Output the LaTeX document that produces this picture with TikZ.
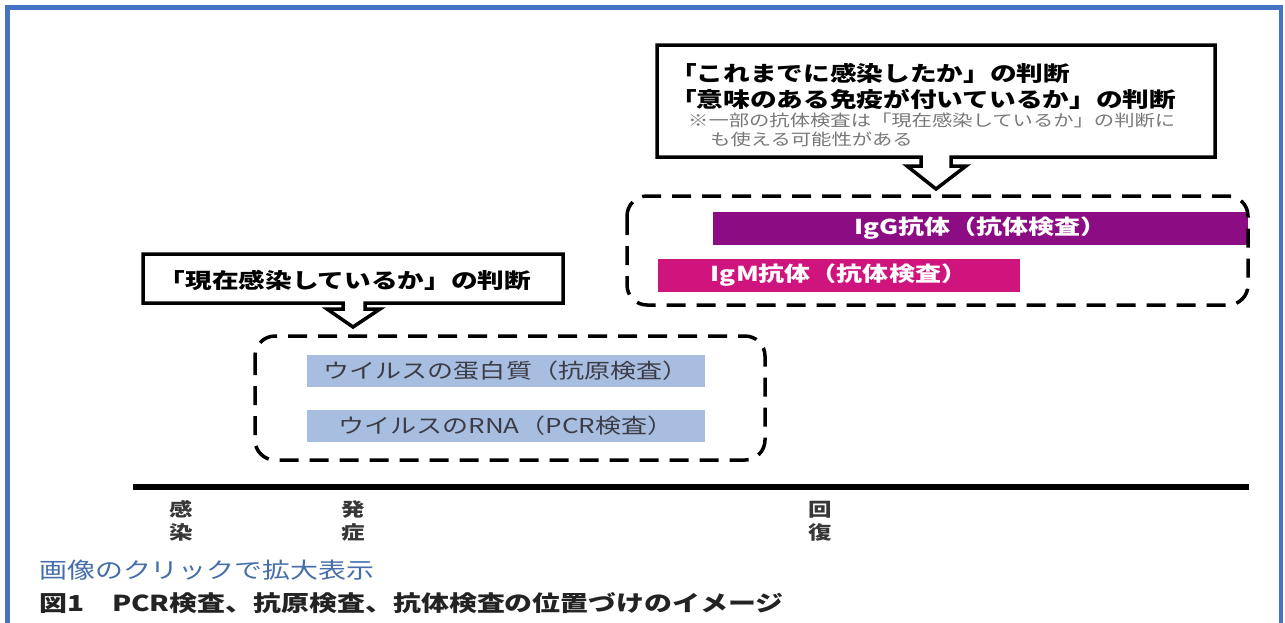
\documentclass[tikz,border=0pt]{standalone}
\usepackage{fontspec}
\setmainfont{Noto Sans CJK JP}
\newfontfamily\jp[FakeStretch=1.27]{Noto Sans CJK JP}
\definecolor{frameblue}{RGB}{68,114,196}
\definecolor{iggcol}{RGB}{140,12,132}
\definecolor{igmcol}{RGB}{208,20,126}
\definecolor{lightbar}{RGB}{168,190,224}
\definecolor{bartext}{RGB}{60,60,70}
\definecolor{linkblue}{RGB}{70,110,170}
\definecolor{captext}{RGB}{35,35,35}
\definecolor{notegray}{RGB}{120,120,120}
\definecolor{labgray}{RGB}{55,55,55}
\tikzset{
  callout/.style={draw=black, line width=3.5pt, fill=white, line join=miter},
  dbox/.style={draw=black, line width=3.5pt, dash pattern=on 19pt off 11pt, rounded corners=20pt},
  bigtext/.style={font=\jp\bfseries\fontsize{21}{25}\selectfont, inner sep=0pt, text=black},
  notetext/.style={font=\jp\fontsize{16}{19}\selectfont, inner sep=0pt, text=notegray, anchor=west},
  barbox/.style={inner sep=0pt, minimum height=33pt, draw=none},
  abtext/.style={font=\jp\bfseries\fontsize{20.5}{24}\selectfont, text=white},
  virtext/.style={font=\jp\fontsize{20.5}{24}\selectfont, text=bartext},
  stage/.style={font=\jp\bfseries\fontsize{18.5}{23}\selectfont, text=labgray, align=center, inner sep=0pt},
}
\begin{document}
\begin{tikzpicture}[x=1pt,y=-1pt]
\useasboundingbox (0,0) rectangle (1285,622);
\fill[white] (0,0) rectangle (1285,622);
% outer frame
\draw[frameblue, line width=4.5pt] (7.5,640) -- (7.5,7.5) -- (1281,7.5) -- (1281,640);

% upper callout
\draw[callout] (657,45) -- (1215,45) -- (1215,157) -- (951,157) -- (951,166) -- (966,166)
  -- (936,189) -- (907,166) -- (921,166) -- (921,157) -- (657,157) -- cycle;
\node[bigtext, anchor=west] (q1) at (670,73) {「これまでに感染したか」の判断};
\node[bigtext, anchor=west] (q2) at (670,99) {「意味のある免疫が付いているか」の判断};
\node[notetext] (n1) at (688,120) {※一部の抗体検査は「現在感染しているか」の判断に};
\node[notetext] (n2) at (710,139) {も使える可能性がある};

% antibody bars
\node[barbox, fill=iggcol, minimum width=535pt, abtext] (igg) at (980.5,228.5) {IgG抗体（抗体検査）};
\node[barbox, fill=igmcol, minimum width=362pt, abtext] (igm) at (839,275) {IgM抗体（抗体検査）};
\draw[dbox] (627,196) rectangle (1248,305);

% lower callout
\draw[callout] (143,254) -- (563,254) -- (563,303) -- (365,303) -- (365,309) -- (380,309)
  -- (353,327) -- (327,309) -- (343,309) -- (343,303) -- (143,303) -- cycle;
\node[bigtext] (q3) at (345,280) {「現在感染しているか」の判断};

% virus bars
\node[barbox, fill=lightbar, minimum width=398pt, minimum height=32pt, virtext] (prot) at (506,371) {ウイルスの蛋白質（抗原検査）};
\node[barbox, fill=lightbar, minimum width=398pt, minimum height=32pt, virtext] (rna) at (506,426) {ウイルスのRNA（PCR検査）};
\draw[dbox] (255,336) rectangle (765,460);

% timeline
\coordinate (t0) at (133,487);
\coordinate (t1) at (1249,487);
\draw[black, line width=6pt] (t0) -- (t1);
\node[stage] (s1) at (181,521) {感\\染};
\node[stage] (s2) at (353,521) {発\\症};
\node[stage] (s3) at (820,521) {回\\復};

% captions
\node[font=\jp\fontsize{22}{26}\selectfont, text=linkblue, anchor=west, inner sep=0pt] (link) at (39,570) {画像のクリックで拡大表示};
\node[font=\jp\bfseries\fontsize{22}{26}\selectfont, text=captext, anchor=west, inner sep=0pt] (cap) at (39,603) {図1　PCR検査、抗原検査、抗体検査の位置づけのイメージ};
\end{tikzpicture}
\end{document}
